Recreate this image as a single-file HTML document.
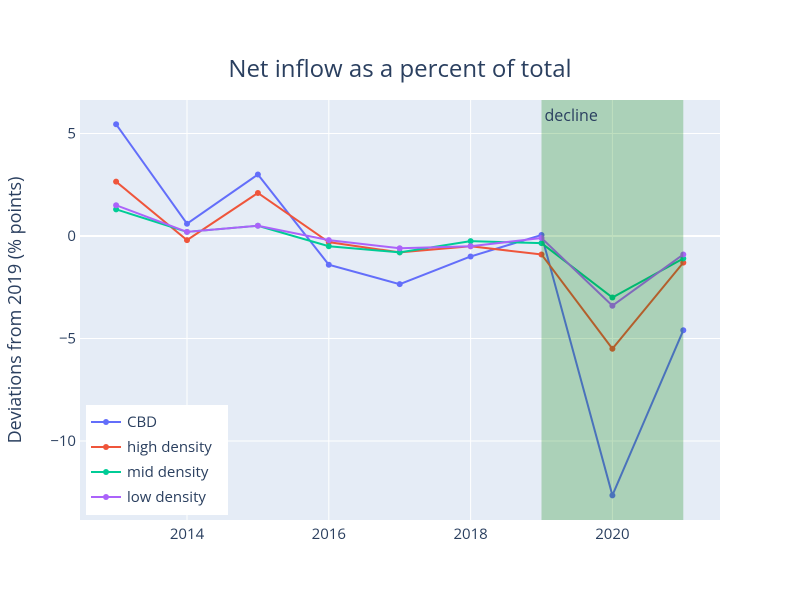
<!DOCTYPE html>
<html><head><meta charset="utf-8"><style>
body{margin:0;background:#fff;font-family:"Open Sans","Liberation Sans",sans-serif;}
</style></head><body>
<svg id="chart" width="800" height="600" xmlns="http://www.w3.org/2000/svg"></svg>
<script>
const years=[2013,2014,2015,2016,2017,2018,2019,2020,2021];
const cbd=[5.45,0.6,3.0,-1.4,-2.35,-1.0,0.05,-12.65,-4.6];
const highDensity=[2.65,-0.2,2.1,-0.3,-0.8,-0.5,-0.9,-5.5,-1.3];
const midDensity=[1.3,0.2,0.5,-0.5,-0.8,-0.25,-0.35,-3.0,-1.1];
const lowDensity=[1.5,0.2,0.5,-0.2,-0.6,-0.5,-0.1,-3.4,-0.9];
const xTicks=[2014,2016,2018,2020];
const yTicks=[5,0,-5,-10];
const yTickLabels=["5","0","−5","−10"];
const seriesNames=["CBD","high density","mid density","low density"];
const shadeRange=[2019,2021];

const L=80,R=720,T=100,B=520;
const xs=v=>187+(v-2014)*70.9;
const ys=v=>236-v*20.5;
const svg=document.getElementById('chart');
const NS='http://www.w3.org/2000/svg';
function mk(tag,attrs,parent){const e=document.createElementNS(NS,tag);for(const k in attrs)e.setAttribute(k,attrs[k]);(parent||svg).appendChild(e);return e;}

const bg=mk('rect',{x:L,y:T,width:R-L,height:B-T,fill:'#E5ECF6'});


xTicks.forEach(t=>{
  const g=mk('line',{x1:xs(t),x2:xs(t),y1:T,y2:B,stroke:'#fff','stroke-width':1});
  
  
  const tx=mk('text',{x:xs(t),y:539,'text-anchor':'middle','font-size':15,fill:'#2a3f5f'});
  tx.textContent=t;
  
  
});
yTicks.forEach((t,i)=>{
  const g=mk('line',{x1:L,x2:R,y1:ys(t),y2:ys(t),stroke:'#fff','stroke-width':t===0?2:1});
  
  
  const tx=mk('text',{x:L-4,y:ys(t)+5,'text-anchor':'end','font-size':15,fill:'#2a3f5f'});
  tx.textContent=yTickLabels[i];
  
  
});
const colors=['#636efa','#EF553B','#00cc96','#ab63fa'];
[cbd,highDensity,midDensity,lowDensity].forEach((s,i)=>{
  const p=mk('polyline',{points:s.map((v,j)=>xs(years[j])+','+ys(v)).join(' '),fill:'none',stroke:colors[i],'stroke-width':2});
  
  
  s.forEach((v,j)=>{
    const c=mk('circle',{cx:xs(years[j]),cy:ys(v),r:3,fill:colors[i]});
    
    
  });
});
const sh=mk('rect',{x:xs(shadeRange[0]),y:T,width:xs(shadeRange[1])-xs(shadeRange[0]),height:B-T,fill:'green','fill-opacity':0.25});


const an=mk('text',{x:xs(shadeRange[0])+3,y:121,'font-size':16,fill:'#2a3f5f'});
an.textContent='decline';


const title=mk('text',{x:400,y:77,'text-anchor':'middle','font-size':24,fill:'#2a3f5f'});
title.textContent='Net inflow as a percent of total';


const yt=mk('text',{x:21,y:310,'text-anchor':'middle','font-size':18,fill:'#2a3f5f',transform:'rotate(-90 21 310)'});
yt.textContent='Deviations from 2019 (% points)';


const lg=mk('rect',{x:86,y:405,width:142,height:110,fill:'#fff'});


seriesNames.forEach((n,i)=>{
  const y=422+i*25;
  const l=mk('line',{x1:91,x2:121,y1:y,y2:y,stroke:colors[i],'stroke-width':2});
  
  
  const c=mk('circle',{cx:106,cy:y,r:3,fill:colors[i]});
  
  
  const t=mk('text',{x:127,y:y+5,'font-size':15,fill:'#2a3f5f'});
  t.textContent=n;
  
  
});
</script>
</body></html>
